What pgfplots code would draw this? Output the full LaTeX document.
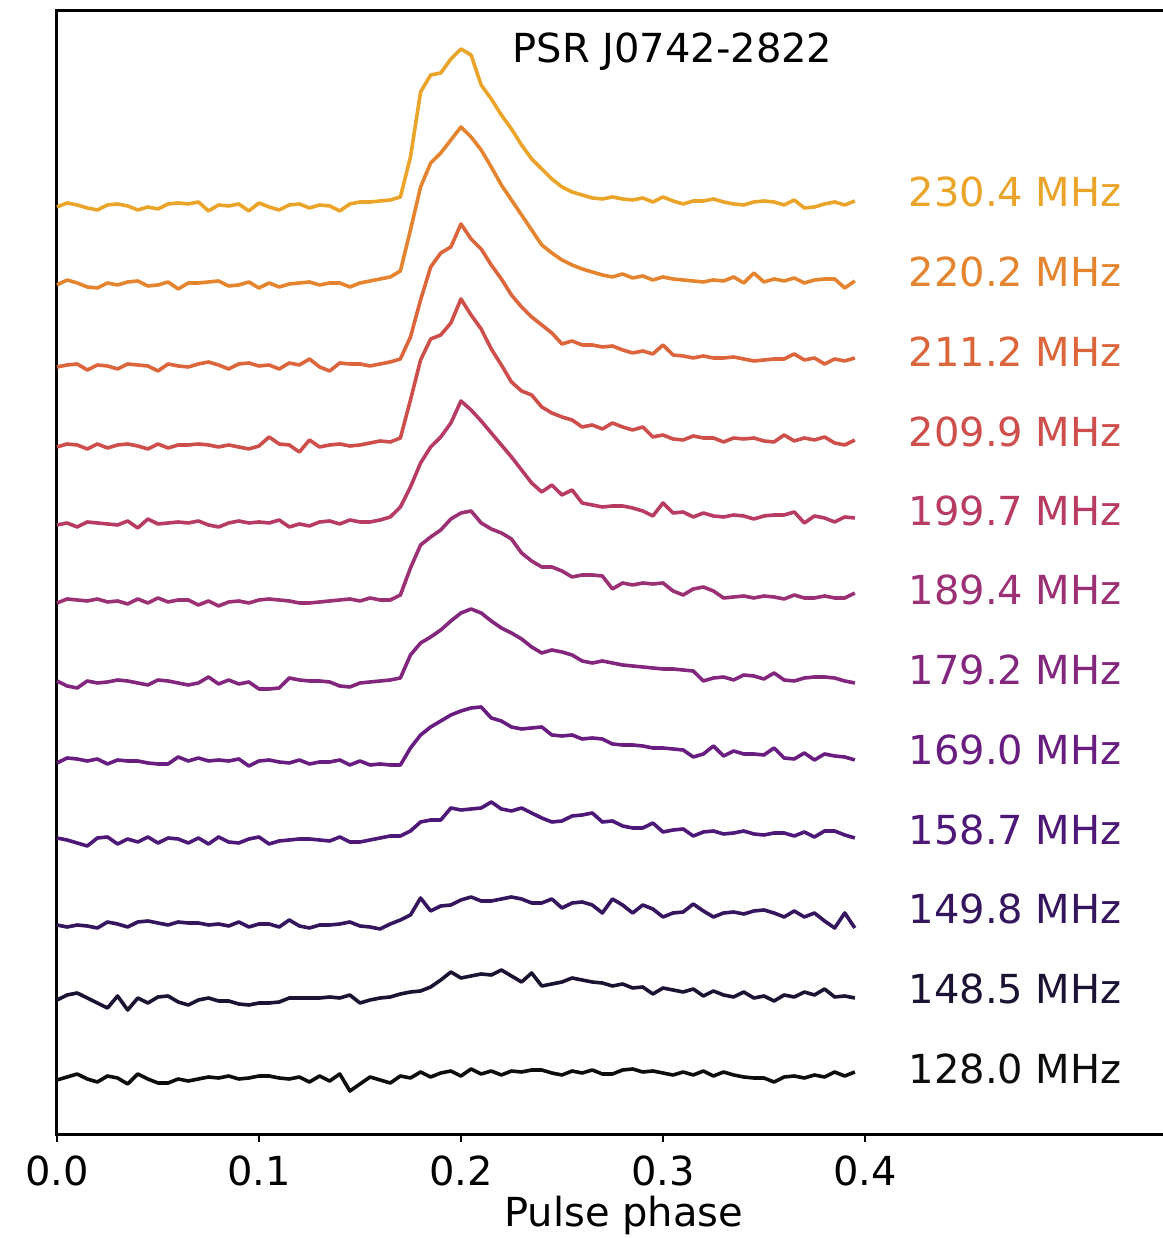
\documentclass[border=0pt]{standalone}
\usepackage{fontspec}
\setmainfont{DejaVu Sans}
\usepackage{pgfplots}
\usepackage{pgfplotstable}
\pgfplotsset{compat=1.18}

\definecolor{c128}{HTML}{0D0D10}
\definecolor{c148}{HTML}{1C1233}
\definecolor{c149}{HTML}{34155E}
\definecolor{c158}{HTML}{4D1878}
\definecolor{c169}{HTML}{6A1D80}
\definecolor{c179}{HTML}{82267E}
\definecolor{c189}{HTML}{9C3075}
\definecolor{c199}{HTML}{B83C62}
\definecolor{c209}{HTML}{CE4E4B}
\definecolor{c211}{HTML}{DC653C}
\definecolor{c220}{HTML}{E5842F}
\definecolor{c230}{HTML}{EBA42A}

% columns: A=230.4, B=220.2, C=211.2, D=209.9, E=199.7, F=189.4,
%          G=179.2, H=169.0, I=158.7, J=149.8, K=148.5, L=128.0 (relative to baseline)
\pgfplotstableread{
x A B C D E F G H I J K L
0.000 0 0 0 0 0 0 2 0 2 0 0 0
0.005 4 5 2 3 2 4 -3 5 0 -2 5 3
0.010 2 2 3 2 -2 3 -5 4 -3 0 7 6
0.015 -1 -2 -3 -2 3 2 2 2 -6 -1 2 1
0.020 -3 -3 2 3 2 4 0 4 2 -3 -3 -2
0.025 2 2 1 -1 1 1 1 -1 3 3 -8 4
0.030 3 0 -2 2 0 2 3 3 -4 1 4 2
0.035 1 3 3 3 4 -1 2 2 1 -2 -10 -4
0.040 -3 4 2 1 -3 4 0 2 -2 3 2 6
0.045 0 -1 1 -2 6 0 -2 0 3 4 -3 1
0.050 -2 0 -4 3 1 5 3 -1 -3 2 3 -3
0.055 3 3 3 -1 2 1 2 -1 2 0 4 -3
0.060 4 -4 1 2 3 3 0 6 1 3 -2 1
0.065 3 2 0 2 2 3 -2 2 -3 2 -5 -1
0.070 5 2 3 3 4 -2 0 5 2 2 0 1
0.075 -4 3 5 2 0 2 6 2 -4 0 2 3
0.080 2 4 2 0 -2 -3 -1 3 3 1 -1 2
0.085 1 -1 -2 2 2 1 3 2 -2 -1 -1 4
0.090 3 0 3 0 4 2 -1 4 -3 3 -4 1
0.095 -4 3 4 -2 2 0 1 -3 1 -2 -5 2
0.100 4 -3 1 1 3 3 -6 2 3 1 -3 4
0.105 0 2 2 10 2 4 -6 3 -4 1 -3 4
0.110 -3 -2 -2 3 5 3 -5 1 -1 -2 -2 2
0.115 2 1 4 2 -2 2 5 0 0 5 2 1
0.120 3 2 2 -5 1 0 3 3 1 -1 2 3
0.125 -1 3 8 7 -1 0 2 -1 1 -3 2 -2
0.130 2 0 0 0 3 1 2 1 0 0 2 4
0.135 1 2 -4 2 4 2 1 1 -1 0 3 -1
0.140 -4 2 4 3 1 3 -3 3 3 1 2 6
0.145 3 -2 3 1 5 4 -4 -2 -2 3 5 -11
0.150 5 2 3 2 3 2 0 2 -2 -1 -3 -4
0.155 5 4 1 4 3 5 1 -2 0 -2 0 3
0.160 6 6 3 6 5 3 2 -1 2 -4 2 0
0.165 7 8 5 5 8 3 3 -2 4 1 3 -3
0.170 10 14 8 9 18 8 5 -2 4 5 6 4
0.175 50 55 30 47 38 35 28 15 9 10 8 2
0.180 115 98 67 87 62 58 40 28 18 27 9 8
0.185 132 122 100 108 78 66 46 36 20 14 13 3
0.190 134 132 114 112 88 73 53 42 20 19 20 7
0.195 148 145 120 124 102 84 62 48 32 20 28 9
0.200 158 158 143 148 124 90 70 52 30 25 22 4
0.205 152 148 128 132 115 92 74 55 31 28 24 11
0.210 122 135 118 118 104 80 70 56 32 24 26 6
0.215 108 118 102 98 92 74 62 45 38 24 25 9
0.220 92 100 88 82 80 70 55 42 31 26 30 5
0.225 78 85 72 65 68 64 50 36 29 28 24 9
0.230 62 70 60 56 55 50 44 34 32 26 18 8
0.235 48 55 50 52 42 42 36 35 27 22 27 10
0.240 38 40 42 40 33 36 30 36 22 22 14 10
0.245 28 32 34 34 40 36 33 28 18 26 16 7
0.250 20 25 23 30 30 32 31 27 19 17 18 5
0.255 15 20 26 27 35 26 28 28 24 22 22 9
0.260 12 16 22 20 22 28 22 24 25 23 20 7
0.265 9 13 22 22 20 28 20 25 27 20 18 10
0.270 8 10 20 18 18 27 22 24 18 12 17 6
0.275 10 8 21 24 19 14 20 19 19 26 14 6
0.280 8 11 17 20 19 20 18 18 14 20 16 10
0.285 7 7 14 17 17 18 17 18 12 12 12 11
0.290 9 9 16 20 14 20 16 17 12 20 13 8
0.295 5 5 13 10 9 19 15 15 17 16 6 9
0.300 10 8 22 12 22 20 14 15 8 8 12 7
0.305 6 6 12 8 12 12 14 14 10 12 10 5
0.310 3 5 11 7 13 8 13 13 11 13 8 8
0.315 6 4 9 11 8 14 12 6 4 21 11 5
0.320 6 3 11 9 12 16 2 9 8 14 4 9
0.325 8 5 9 9 9 12 5 17 9 8 9 4
0.330 5 4 9 5 8 5 6 7 6 12 5 8
0.335 3 8 10 9 10 6 3 12 7 13 3 5
0.340 2 2 8 8 9 7 8 9 9 11 8 3
0.345 5 12 6 9 6 5 7 9 6 14 2 2
0.350 6 3 7 6 9 7 4 8 5 15 4 2
0.355 5 6 8 5 10 6 10 15 7 12 -1 -2
0.360 2 4 8 12 10 4 3 5 7 8 5 3
0.365 7 7 13 6 13 8 2 4 4 14 3 4
0.370 -1 2 7 9 2 5 5 10 8 8 8 2
0.375 0 5 9 7 9 5 6 3 3 12 5 5
0.380 3 6 3 10 7 7 6 9 9 4 11 3
0.385 5 6 8 4 3 5 5 7 9 -3 3 8
0.390 2 -3 6 2 8 5 2 6 5 12 4 4
0.395 6 4 9 7 7 10 0 3 2 -3 2 8
}\prof

\begin{document}
\begin{tikzpicture}
\begin{axis}[
  at={(0,0)}, anchor=south west,
  scale only axis,
  width=280pt, height=281pt,
  xmin=0, xmax=0.5545, ymin=0, ymax=1124,
  ytick=\empty,
  xtick={0,0.1,0.2,0.3,0.4},
  xticklabels={0.0,0.1,0.2,0.3,0.4},
  xtick pos=left,
  tick align=outside,
  major tick length=1.75pt,
  tick style={line width=0.6pt, black},
  axis line style={line width=0.75pt},
  xlabel={Pulse phase},
  xlabel style={at={(axis description cs:0.506,0)}, anchor=base, yshift=-23pt},
  tick label style={font=\fontsize{10}{12}\selectfont},
  label style={font=\fontsize{10}{12}\selectfont},
  /pgf/number format/assume math mode=true,
  clip=false,
  every axis plot/.append style={line width=0.9pt, line join=round, mark=none},
]
\addplot[c230] table[x=x, y expr=\thisrow{A}+928] {\prof};
\addplot[c220] table[x=x, y expr=\thisrow{B}+850] {\prof};
\addplot[c211] table[x=x, y expr=\thisrow{C}+768] {\prof};
\addplot[c209] table[x=x, y expr=\thisrow{D}+688] {\prof};
\addplot[c199] table[x=x, y expr=\thisrow{E}+610] {\prof};
\addplot[c189] table[x=x, y expr=\thisrow{F}+532] {\prof};
\addplot[c179] table[x=x, y expr=\thisrow{G}+452] {\prof};
\addplot[c169] table[x=x, y expr=\thisrow{H}+372] {\prof};
\addplot[c158] table[x=x, y expr=\thisrow{I}+295] {\prof};
\addplot[c149] table[x=x, y expr=\thisrow{J}+210] {\prof};
\addplot[c148] table[x=x, y expr=\thisrow{K}+135] {\prof};
\addplot[c128] table[x=x, y expr=\thisrow{L}+55] {\prof};

\begin{scope}[every node/.style={anchor=west, inner sep=0pt, font=\fontsize{10}{12}\selectfont}]
\node[text=c230] at (axis cs:0.4213,943) {230.4 MHz};
\node[text=c220] at (axis cs:0.4213,863) {220.2 MHz};
\node[text=c211] at (axis cs:0.4213,783) {211.2 MHz};
\node[text=c209] at (axis cs:0.4213,703) {209.9 MHz};
\node[text=c199] at (axis cs:0.4213,624) {199.7 MHz};
\node[text=c189] at (axis cs:0.4213,545) {189.4 MHz};
\node[text=c179] at (axis cs:0.4213,465) {179.2 MHz};
\node[text=c169] at (axis cs:0.4213,385) {169.0 MHz};
\node[text=c158] at (axis cs:0.4213,305) {158.7 MHz};
\node[text=c149] at (axis cs:0.4213,226) {149.8 MHz};
\node[text=c148] at (axis cs:0.4213,146) {148.5 MHz};
\node[text=c128] at (axis cs:0.4213,66) {128.0 MHz};
\node[text=black] at (axis cs:0.2252,1083) {PSR J0742-2822};
\end{scope}
\end{axis}
\pgfresetboundingbox
\useasboundingbox (-14.25pt,-25.75pt) rectangle (276.5pt,283.75pt);
\end{tikzpicture}
\end{document}
